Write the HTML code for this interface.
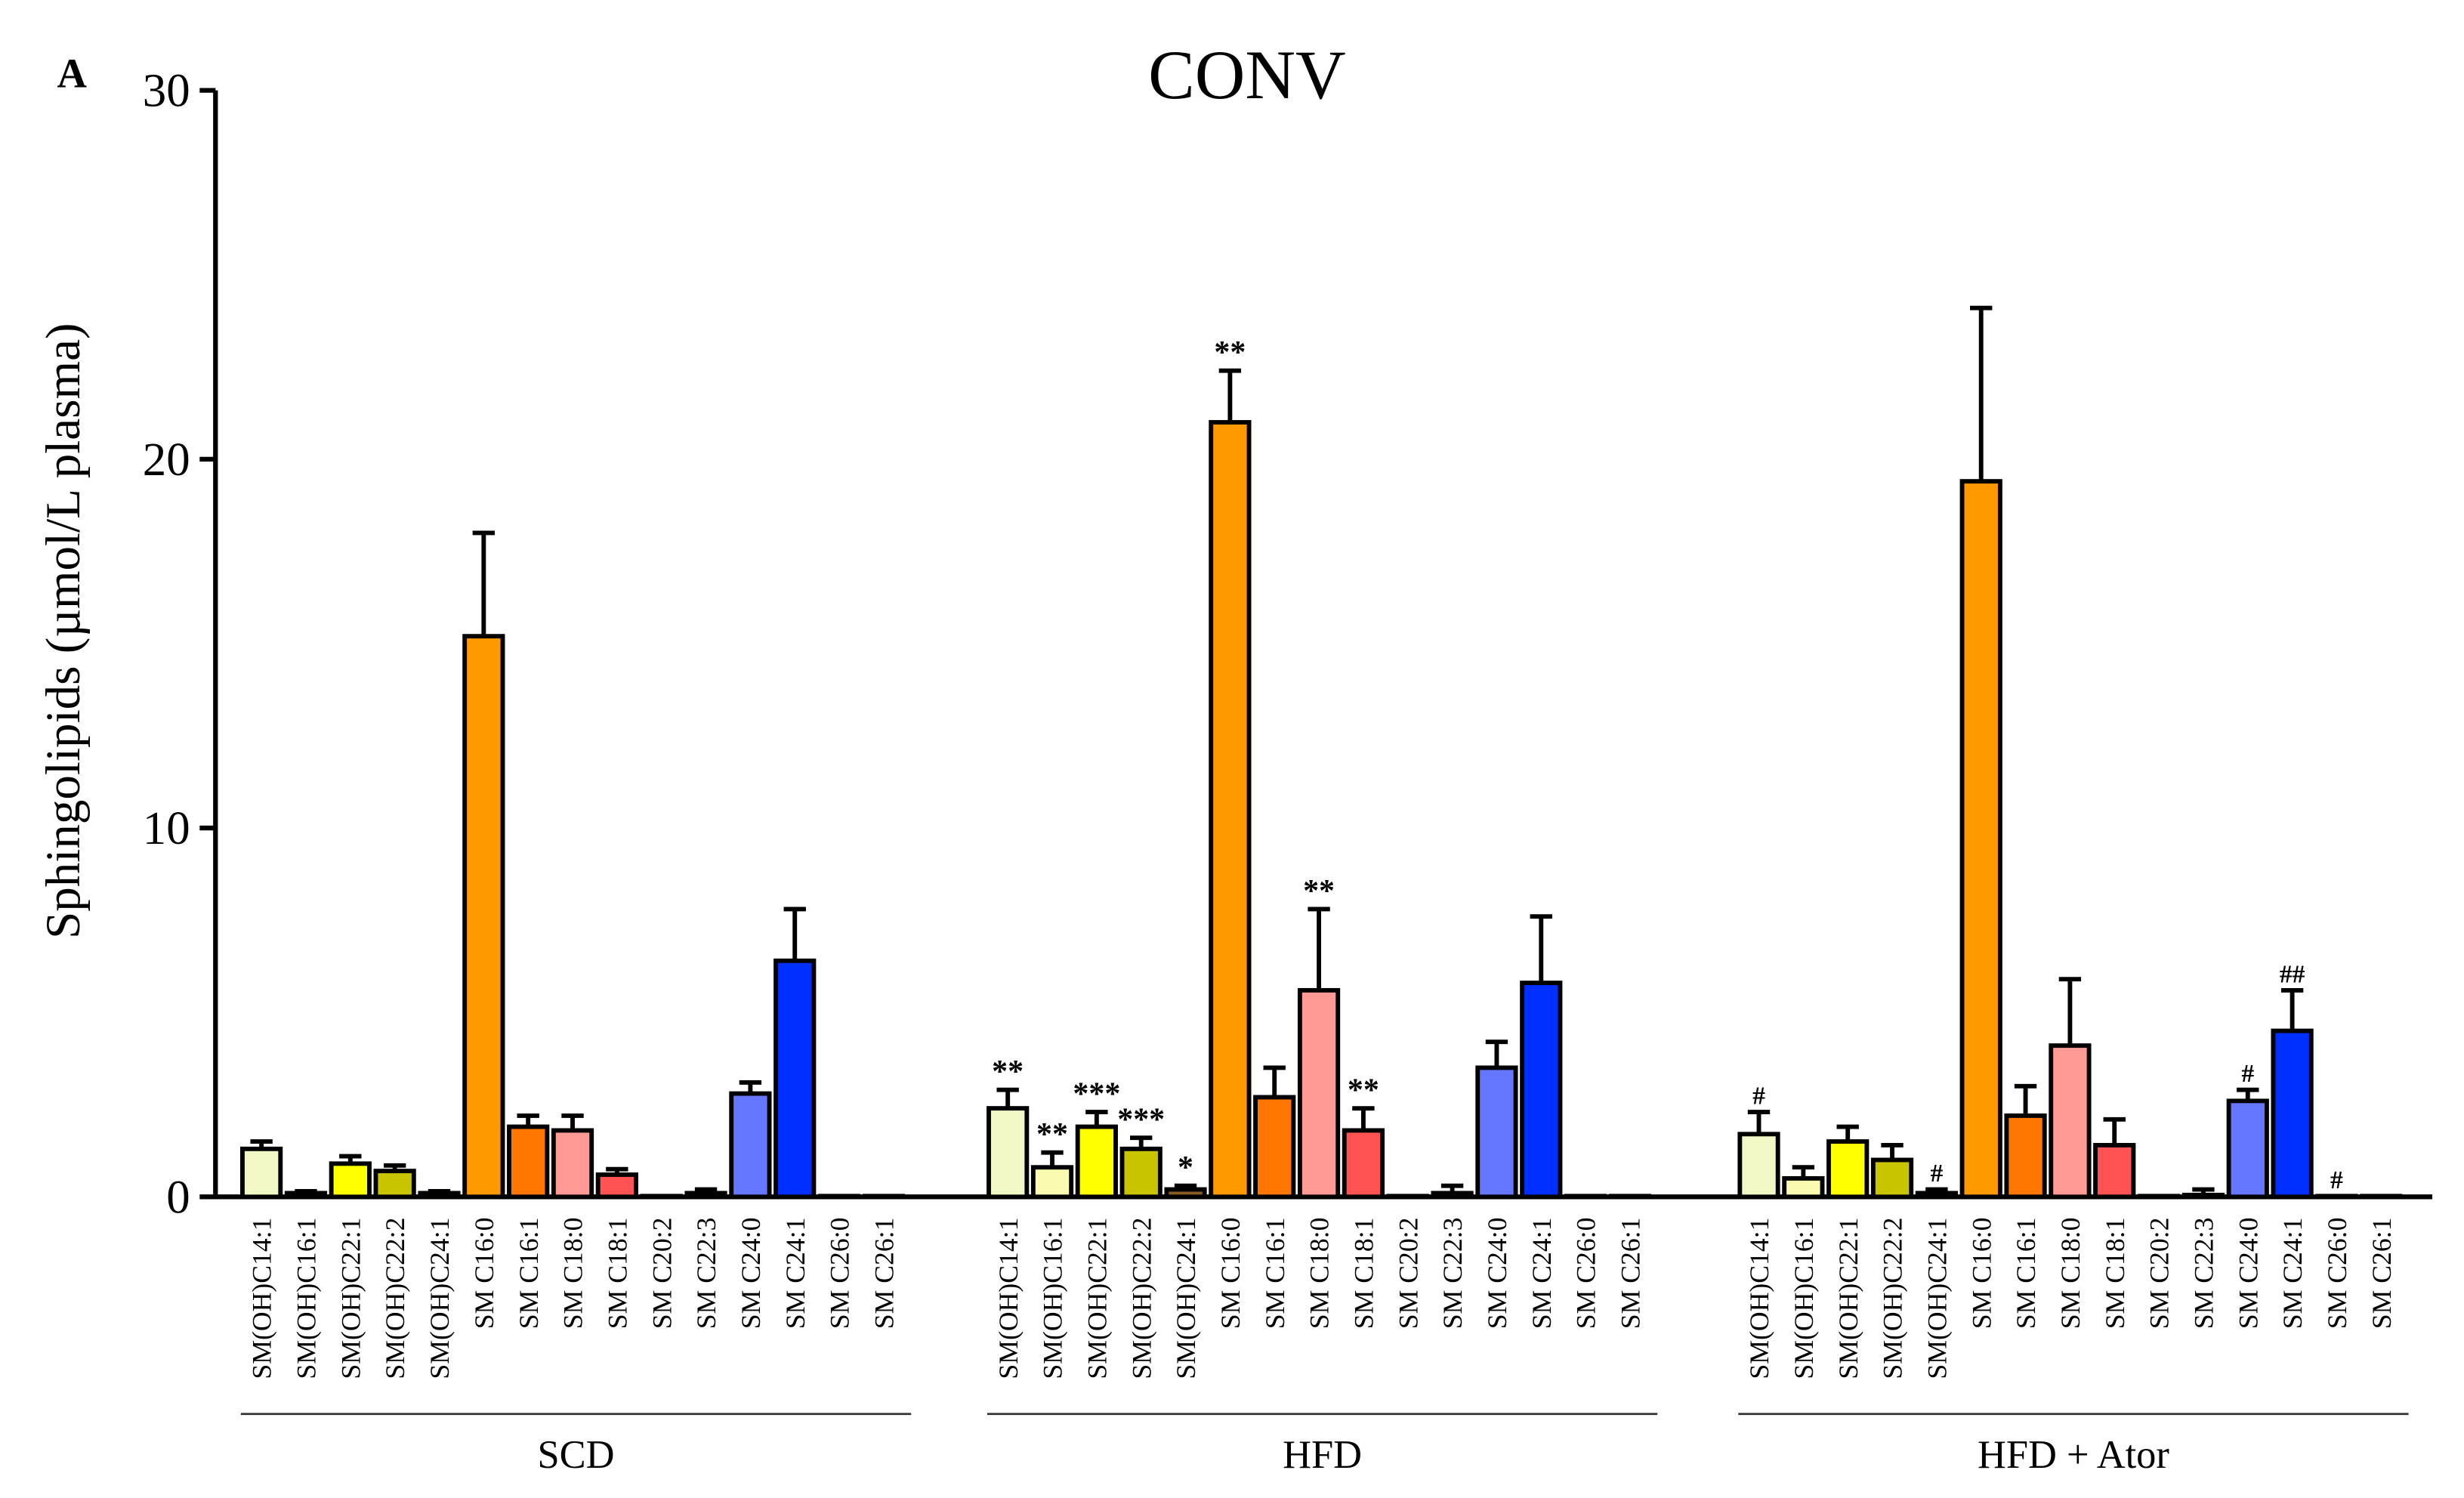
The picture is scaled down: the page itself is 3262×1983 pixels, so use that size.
<!DOCTYPE html>
<html><head><meta charset="utf-8"><style>
html,body{margin:0;padding:0;background:#fff;}
svg{display:block;font-family:"Liberation Serif",serif;}
</style></head><body>
<svg id="chart" width="3262" height="1983" viewBox="0 0 1555 945" preserveAspectRatio="none" xmlns="http://www.w3.org/2000/svg">
<text x="36" y="55" font-size="26" font-weight="bold">A</text>
<text x="787" y="62" font-size="44" text-anchor="middle">CONV</text>
<text transform="translate(50,398) rotate(-90)" font-size="31" text-anchor="middle">Sphingolipids (µmol/L plasma)</text>
<g id="axes"></g>
<g id="bars"></g>
</svg>
<script>
const categories=["SM(OH)C14:1","SM(OH)C16:1","SM(OH)C22:1","SM(OH)C22:2","SM(OH)C24:1","SM C16:0","SM C16:1","SM C18:0","SM C18:1","SM C20:2","SM C22:3","SM C24:0","SM C24:1","SM C26:0","SM C26:1"];
const groups=["SCD","HFD","HFD + Ator"];
const scdValues=[1.3,0.1,0.9,0.7,0.1,15.2,1.9,1.8,0.6,0.02,0.1,2.8,6.4,0.02,0.02];
const scdErrors=[0.2,0.05,0.2,0.15,0.05,2.8,0.3,0.4,0.15,0,0.1,0.3,1.4,0,0];
const hfdValues=[2.4,0.8,1.9,1.3,0.2,21.0,2.7,5.6,1.8,0.02,0.1,3.5,5.8,0.02,0.02];
const hfdErrors=[0.5,0.4,0.4,0.3,0.1,1.4,0.8,2.2,0.6,0,0.2,0.7,1.8,0,0];
const atorValues=[1.7,0.5,1.5,1.0,0.1,19.4,2.2,4.1,1.4,0.02,0.05,2.6,4.5,0.02,0.02];
const atorErrors=[0.6,0.3,0.4,0.4,0.1,4.7,0.8,1.8,0.7,0,0.15,0.3,1.1,0,0];
const hfdMarks=["**","**","***","***","*","**","","**","**","","","","","",""];
const atorMarks=["#","","","","#","","","","","","","#","##","#",""];
const yTicks=[0,10,20,30];
const colors=["#f2f7c6","#fafab0","#ffff00","#c8c400","#8a5a22","#ff9900","#ff7700","#ff9a94","#ff5252","#ffffff","#ffffff","#6677ff","#0030ff","#ffffff","#ffffff"];

const NS="http://www.w3.org/2000/svg";
const y0=755,yTop=57,yMax=30;
const yScale=v=>y0-(v/yMax)*(y0-yTop);
const groupStart=[165,636,1110],step=28.05,bw=24;
const xScale=(g,i)=>groupStart[g]+i*step;
function mk(tag,attrs,parent){const e=document.createElementNS(NS,tag);for(const k in attrs)e.setAttribute(k,attrs[k]);parent.appendChild(e);return e;}
const axes=document.getElementById('axes'),bars=document.getElementById('bars');
let e=mk('line',{x1:136,y1:yTop,x2:136,y2:y0+1.5,stroke:'#000','stroke-width':3},axes);


e=mk('line',{x1:134.5,y1:y0,x2:1535,y2:y0,stroke:'#000','stroke-width':3},axes);


yTicks.forEach(t=>{
  const y=yScale(t);
  let l=mk('line',{x1:126,y1:y,x2:136,y2:y,stroke:'#000','stroke-width':3},axes);
  
  
  let tx=mk('text',{x:120,y:y+10,'font-size':30,'text-anchor':'end'},axes);
  
  
  tx.textContent=t;
});
const series=[[scdValues,scdErrors,null],[hfdValues,hfdErrors,hfdMarks],[atorValues,atorErrors,atorMarks]];
series.forEach((s,g)=>{
  const [vals,errs,marks]=s;
  vals.forEach((v,i)=>{
    const cx=xScale(g,i),top=yScale(v),et=yScale(v+errs[i]);
    if(errs[i]>0){
      let el=mk('line',{x1:cx,y1:top,x2:cx,y2:et,stroke:'#000','stroke-width':2.8},bars);
      
      
      let cap=mk('line',{x1:cx-7,y1:et,x2:cx+7,y2:et,stroke:'#000','stroke-width':2.8},bars);
      
      
    }
    let r=mk('rect',{x:cx-bw/2,y:top,width:bw,height:Math.max(y0-top,0.5),fill:colors[i],stroke:'#000','stroke-width':2.8},bars);
    
    
    if(marks&&marks[i]){
      let m=mk('text',{x:cx,y:et-5,'font-size':marks[i].includes('#')?16:20,'font-weight':'bold','text-anchor':'middle'},bars);
      
      
      m.textContent=marks[i];
    }
    let lb=mk('text',{transform:`translate(${cx+6},768) rotate(-90)`,'font-size':17,'text-anchor':'end'},bars);
    
    
    lb.textContent=categories[i];
  });
  const gx1=groupStart[g]-13,gx2=gx1+423;
  let gl=mk('line',{x1:gx1,y1:892,x2:gx2,y2:892,stroke:'#333','stroke-width':1.3},bars);
  
  
  let gt=mk('text',{x:(gx1+gx2)/2,y:926,'font-size':25,'text-anchor':'middle'},bars);
  
  
  gt.textContent=groups[g];
});
</script>
</body></html>
